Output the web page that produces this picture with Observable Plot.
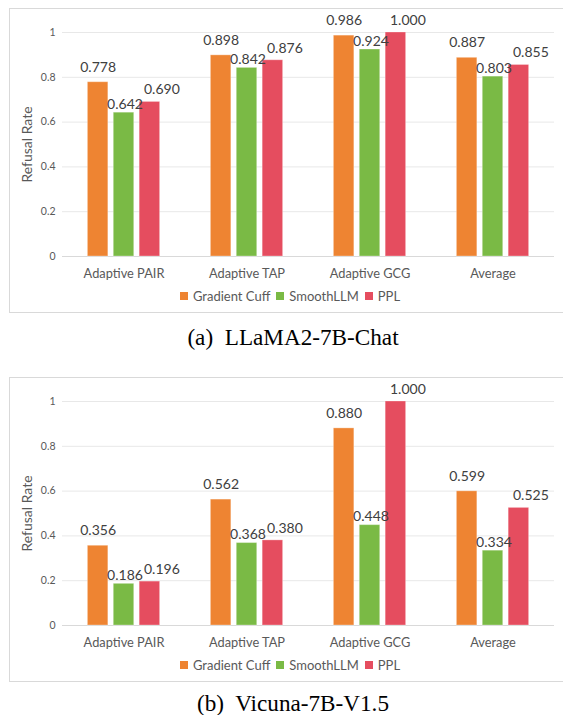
<!DOCTYPE html>
<html><head><meta charset="utf-8">
<script src="https://cdn.jsdelivr.net/npm/d3@7"></script>
<script src="https://cdn.jsdelivr.net/npm/@observablehq/plot@0.6"></script>
<style>
html,body{margin:0;padding:0;background:#fff;}
body{width:563px;height:715px;overflow:hidden;position:relative;font-family:Lato,"Liberation Sans",sans-serif;}
.box{position:absolute;left:9px;width:560px;height:303px;border:1px solid #d9d9d9;border-right:none;}
.box svg{position:absolute;left:0;top:0;}
.legend{position:absolute;left:0;top:279px;width:560px;height:16px;display:flex;justify-content:center;align-items:center;font-size:13px;color:#595959;}
.legend .sw{width:8px;height:8px;margin-right:5px;display:inline-block;}
.legend .it{display:flex;align-items:center;margin-right:6px;}
.legend .it:last-child{margin-right:0;}
.cap{position:absolute;left:0;width:586px;text-align:center;font-family:"Liberation Serif","Times New Roman",serif;font-size:23.2px;line-height:23.2px;color:#000;white-space:pre;}
</style>
</head><body>
<div class="box" id="p1" style="top:8px"></div>
<div class="cap" style="top:325.5px">(a)  LLaMA2-7B-Chat</div>
<div class="box" id="p2" style="top:377px"></div>
<div class="cap" style="top:691.5px">(b)  Vicuna-7B-V1.5</div>
<script>
const categories = ["Adaptive PAIR", "Adaptive TAP", "Adaptive GCG", "Average"];
const series = ["Gradient Cuff", "SmoothLLM", "PPL"];
const colors = ["#ee8432", "#7aba45", "#e54d5f"];
const yTicks = [0, 0.2, 0.4, 0.6, 0.8, 1];

const llamaGradientCuff = [0.778, 0.898, 0.986, 0.887];
const llamaSmoothLLM    = [0.642, 0.842, 0.924, 0.803];
const llamaPPL          = [0.690, 0.876, 1.000, 0.855];

const vicunaGradientCuff = [0.356, 0.562, 0.880, 0.599];
const vicunaSmoothLLM    = [0.186, 0.368, 0.448, 0.334];
const vicunaPPL          = [0.196, 0.380, 1.000, 0.525];

// per-series label nudges (style)
const labelStyle = [{dx: 0, dy: -10.5}, {dx: 1, dy: -4}, {dx: 12, dy: -7.5}];
const fmt = d3.format(".3f");

function chart(vals) {
  const data = [];
  series.forEach((s, i) => categories.forEach((c, j) => data.push({category: c, series: s, value: vals[i][j]})));
  return Plot.plot({
    width: 553, height: 275,
    marginTop: 23, marginBottom: 28, marginLeft: 51, marginRight: 8,
    style: {background: "transparent", fontFamily: "Lato, 'Liberation Sans', sans-serif"},
    fx: {domain: categories, padding: 0, label: null},
    x: {domain: series, paddingInner: 0.21, paddingOuter: 0.98, round: false, axis: null},
    y: {domain: [0, 1], label: null},
    color: {domain: series, range: colors},
    marks: [
      Plot.gridY(yTicks, {stroke: "#e8e8e8", strokeOpacity: 1}),
      Plot.ruleY([0], {stroke: "#d9d9d9", strokeWidth: 1.2}),
      Plot.barY(data, {fx: "category", x: "series", y: "value", fill: "series", stroke: "#ffffff", strokeOpacity: 0.3, strokeWidth: 1}),
      ...series.map((s, i) => Plot.text(data.filter(d => d.series === s), {
        fx: "category", x: "series", y: "value", text: d => fmt(d.value),
        dx: labelStyle[i].dx, dy: labelStyle[i].dy, lineAnchor: "bottom",
        fontSize: 14, fill: "#404040"
      })),
      Plot.axisY(yTicks, {tickSize: 0, tickPadding: 7, fontSize: 10.5, color: "#595959", tickFormat: d => String(d), label: null}),
      Plot.axisY([], {label: "Refusal Rate", labelAnchor: "center", labelArrow: "none", labelOffset: 40, fontSize: 14, color: "#595959", tickSize: 0}),
      Plot.axisFx({anchor: "bottom", tickSize: 0, tickPadding: 12, fontSize: 12.8, color: "#595959", label: null})
    ]
  });
}

function legend() {
  const div = document.createElement("div");
  div.className = "legend";
  series.forEach((s, i) => {
    const it = document.createElement("span");
    it.className = "it";
    const sw = document.createElement("span");
    sw.className = "sw";
    sw.style.background = colors[i];
    it.appendChild(sw);
    it.appendChild(document.createTextNode(s));
    div.appendChild(it);
  });
  return div;
}

const p1 = document.getElementById("p1");
p1.appendChild(chart([llamaGradientCuff, llamaSmoothLLM, llamaPPL]));
p1.appendChild(legend());
const p2 = document.getElementById("p2");
p2.appendChild(chart([vicunaGradientCuff, vicunaSmoothLLM, vicunaPPL]));
p2.appendChild(legend());
</script>
</body></html>
